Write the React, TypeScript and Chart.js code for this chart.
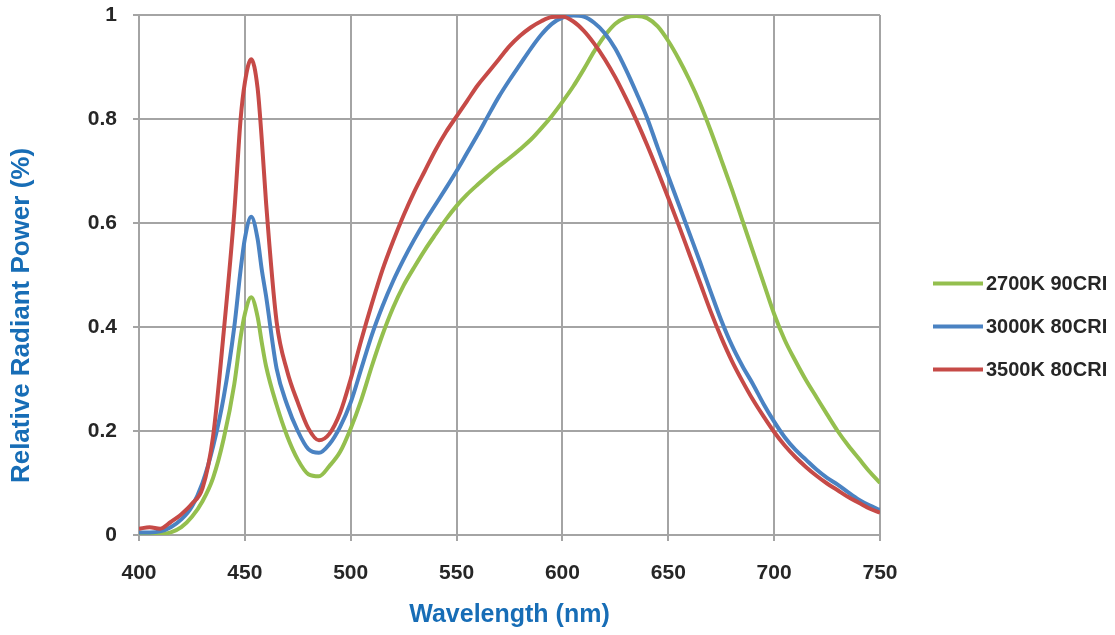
import React, { useEffect, useRef } from "react";
import { Chart, registerables } from "chart.js";

Chart.register(...registerables);

// Wavelength samples (nm)
const wavelengths = [
  400, 405, 410, 415, 420, 425, 430, 435, 440, 445, 448, 450, 453, 456, 458, 460,
  465, 470, 475, 480, 485, 490, 495, 500, 505, 510, 515, 520, 525, 530, 535, 540,
  545, 550, 555, 560, 565, 570, 575, 580, 585, 590, 595, 600, 605, 610, 615, 620,
  625, 630, 635, 640, 645, 650, 655, 660, 665, 670, 675, 680, 685, 690, 695, 700,
  705, 710, 715, 720, 725, 730, 735, 740, 745, 750,
];

// 2700K 90CRI
const series2700 = [
  0.0, 0.0, 0.002, 0.005, 0.015, 0.035, 0.065, 0.11, 0.185, 0.29, 0.38, 0.425, 0.457, 0.42, 0.37, 0.325,
  0.25, 0.19, 0.145, 0.117, 0.113, 0.133, 0.16, 0.205, 0.26, 0.325, 0.385, 0.437, 0.48, 0.515, 0.548, 0.578,
  0.607, 0.633, 0.655, 0.674, 0.692, 0.709, 0.725, 0.742, 0.76, 0.782, 0.806, 0.833, 0.862, 0.895, 0.93, 0.96,
  0.983, 0.995, 0.998, 0.994, 0.978, 0.95, 0.915, 0.875, 0.83, 0.778, 0.722, 0.665, 0.605, 0.545, 0.485, 0.425,
  0.375, 0.335, 0.298, 0.265, 0.232, 0.2, 0.172, 0.147, 0.122, 0.1,
];

// 3000K 80CRI
const series3000 = [
  0.005, 0.005, 0.007, 0.015, 0.03, 0.055, 0.1, 0.17, 0.265, 0.4, 0.51, 0.57, 0.612, 0.57, 0.51, 0.46,
  0.32, 0.25, 0.2, 0.165, 0.158, 0.175, 0.208, 0.255, 0.32, 0.385, 0.44, 0.488, 0.53, 0.568, 0.603, 0.635,
  0.667, 0.7, 0.735, 0.77, 0.807, 0.843, 0.875, 0.905, 0.935, 0.962, 0.983, 0.995, 0.999, 0.997, 0.985, 0.965,
  0.935, 0.895, 0.85, 0.802, 0.745, 0.69, 0.635, 0.58, 0.525, 0.468, 0.413, 0.365, 0.325, 0.29, 0.252, 0.218,
  0.188, 0.164, 0.145, 0.126, 0.11, 0.097, 0.082, 0.068, 0.057, 0.048,
];

// 3500K 80CRI
const series3500 = [
  0.012, 0.015, 0.012, 0.025, 0.04, 0.06, 0.09, 0.19, 0.39, 0.62, 0.8, 0.87, 0.915, 0.86, 0.76, 0.64,
  0.41, 0.315, 0.255, 0.205, 0.182, 0.195, 0.235, 0.3, 0.375, 0.445, 0.51, 0.565, 0.615, 0.66, 0.7, 0.74,
  0.775, 0.805, 0.835, 0.865, 0.89, 0.915, 0.94, 0.96, 0.976, 0.988, 0.996, 0.997, 0.988, 0.97, 0.945, 0.915,
  0.88, 0.84, 0.797, 0.75, 0.7, 0.648, 0.595, 0.54, 0.485, 0.43, 0.38, 0.335, 0.296, 0.26, 0.228, 0.198,
  0.172, 0.15, 0.131, 0.114, 0.099, 0.086, 0.073, 0.062, 0.051, 0.043,
];

const seriesLabels = ["2700K 90CRI", "3000K 80CRI", "3500K 80CRI"];
const seriesValues = [series2700, series3000, series3500];
const seriesColors = ["#94BF4E", "#4A82C2", "#C64A47"];

const xMin = 400;
const xMax = 750;
const xStep = 50;
const yMin = 0;
const yMax = 1;
const yStep = 0.2;

const xTitle = "Wavelength (nm)";
const yTitle = "Relative Radiant Power (%)";

const TITLE_COLOR = "#176db6";
const TICK_COLOR = "#262626";
const GRID_COLOR = "#a4a4a4";

const sideLegend = {
  id: "sideLegend",
  afterDraw(chart: any) {
    const ctx = chart.ctx;
    const area = chart.chartArea;
    ctx.save();
    // y-axis title, centered on canvas height
    ctx.translate(22, chart.height / 2 - 2);
    ctx.rotate(-Math.PI / 2);
    ctx.fillStyle = TITLE_COLOR;
    ctx.font = "bold 26px 'Liberation Sans', Arial, sans-serif";
    ctx.textAlign = "center";
    ctx.textBaseline = "middle";
    ctx.fillText(yTitle, 0, 0);
    ctx.restore();

    ctx.save();
    ctx.font = "bold 20px 'Liberation Sans', Arial, sans-serif";
    ctx.textBaseline = "middle";
    ctx.textAlign = "left";
    chart.data.datasets.forEach((ds: any, i: number) => {
      const y = chart.height / 2 + 9 + (i - 1) * 43;
      const x0 = area.right + 53;
      ctx.strokeStyle = ds.borderColor;
      ctx.lineWidth = 4;
      ctx.lineCap = "butt";
      ctx.beginPath();
      ctx.moveTo(x0, y);
      ctx.lineTo(x0 + 50, y);
      ctx.stroke();
      ctx.fillStyle = TICK_COLOR;
      ctx.fillText(ds.label, x0 + 53, y + 1);
    });
    ctx.restore();
  },
};

export default function App() {
  const canvasRef = useRef<HTMLCanvasElement | null>(null);

  useEffect(() => {
    const canvas = canvasRef.current;
    if (!canvas) return;
    const order = [3, 2, 1];
    const chart = new Chart(canvas, {
      type: "line",
      data: {
        datasets: seriesLabels.map((label, i) => ({
          label,
          data: wavelengths.map((w, j) => ({ x: w, y: seriesValues[i][j] })),
          borderColor: seriesColors[i],
          backgroundColor: seriesColors[i],
          borderWidth: 4,
          pointRadius: 0,
          pointHoverRadius: 0,
          fill: false,
          cubicInterpolationMode: "monotone" as const,
          order: order[i],
        })),
      },
      options: {
        animation: false,
        responsive: false,
        maintainAspectRatio: false,
        devicePixelRatio: 1,
        layout: { padding: { top: 15, right: 235, bottom: 0, left: 0 } },
        plugins: {
          legend: { display: false },
          tooltip: { enabled: false },
          title: { display: false },
        },
        scales: {
          x: {
            type: "linear",
            min: xMin,
            max: xMax,
            ticks: {
              stepSize: xStep,
              color: TICK_COLOR,
              font: { family: "'Liberation Sans', Arial, sans-serif", size: 21, weight: "bold" },
              padding: 20,
              maxRotation: 0,
            },
            grid: { color: GRID_COLOR, lineWidth: 2, tickLength: 6, tickColor: GRID_COLOR },
            border: { color: GRID_COLOR, width: 2 },
            title: {
              display: true,
              text: xTitle,
              color: TITLE_COLOR,
              font: { family: "'Liberation Sans', Arial, sans-serif", size: 25, weight: "bold" },
              padding: { top: 0, bottom: 5 },
            },
            afterFit(scale: any) {
              scale.height = 100;
              scale.paddingLeft = 0;
              scale.paddingRight = 0;
            },
          },
          y: {
            type: "linear",
            min: yMin,
            max: yMax,
            ticks: {
              stepSize: yStep,
              color: TICK_COLOR,
              font: { family: "'Liberation Sans', Arial, sans-serif", size: 21, weight: "bold" },
              padding: 16,
              callback: (v: any) => String(Number(Number(v).toFixed(2))),
            },
            grid: { color: GRID_COLOR, lineWidth: 2, tickLength: 6, tickColor: GRID_COLOR },
            border: { color: GRID_COLOR, width: 2 },
            afterFit(scale: any) {
              scale.width = 139;
              scale.paddingTop = 0;
              scale.paddingBottom = 0;
            },
          },
        },
      },
      plugins: [sideLegend],
    });
    return () => chart.destroy();
  }, []);

  return (
    <div style={{ position: "absolute", left: 0, top: 0, width: 1115, height: 635, background: "#ffffff" }}>
      <canvas ref={canvasRef} width={1115} height={635} style={{ display: "block" }} />
    </div>
  );
}
